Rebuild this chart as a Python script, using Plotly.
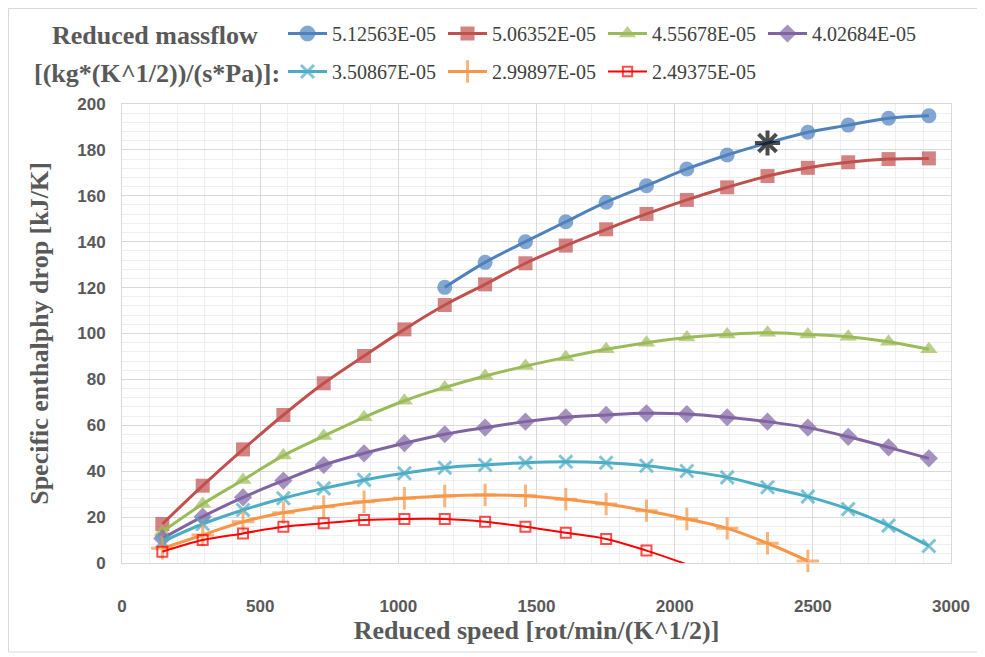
import plotly.graph_objects as go

# ---------------- data ----------------
speed = [146, 292, 438, 584, 730, 876, 1022, 1168, 1314, 1460,
         1606, 1752, 1898, 2044, 2190, 2336, 2482, 2628, 2774, 2920]

series_names = ["5.12563E-05", "5.06352E-05", "4.55678E-05", "4.02684E-05",
                "3.50867E-05", "2.99897E-05", "2.49375E-05"]

dh_51256 = [120.1, 131.0, 140.0, 148.7, 157.2, 164.4, 171.7, 177.8, 183.0,
            187.7, 190.8, 193.8, 194.9]            # starts at speed[7]
dh_50635 = [17.0, 33.7, 49.5, 64.5, 78.3, 90.2, 101.8, 112.4, 121.4, 130.6,
            138.3, 145.4, 152.1, 158.2, 163.7, 168.6, 172.2, 174.6, 176.0, 176.3]
dh_45568 = [13.6, 25.7, 36.2, 46.8, 55.3, 63.5, 70.7, 76.5, 81.5, 85.8,
            89.6, 93.1, 96.0, 98.3, 99.6, 100.3, 99.6, 98.6, 96.4, 93.1]
dh_40268 = [10.7, 20.2, 28.6, 35.9, 42.7, 47.8, 52.2, 56.1, 59.0, 61.6,
            63.5, 64.5, 65.2, 64.9, 63.5, 61.6, 59.0, 55.0, 50.4, 45.6]
dh_35087 = [9.3, 17.0, 23.1, 28.2, 32.5, 36.2, 39.1, 41.5, 42.7, 43.7,
            44.1, 43.7, 42.4, 40.1, 37.3, 33.0, 28.9, 23.5, 16.3, 7.4]
dh_29990 = [6.4, 12.2, 18.0, 21.9, 24.5, 26.7, 28.2, 29.2, 29.6, 29.3,
            27.8, 25.7, 22.8, 19.2, 15.1, 8.6, 0.9]
dh_24938 = [4.9, 10.0, 12.9, 15.8, 17.3, 18.7, 19.2, 19.2, 18.0, 15.8,
            13.2, 10.5, 5.4, -0.6]

blue_start = 7          # first speed index of the top series
design_point_index = 8  # point of the top series drawn as an asterisk

x_ticks = [0, 500, 1000, 1500, 2000, 2500, 3000]
y_ticks = [0, 20, 40, 60, 80, 100, 120, 140, 160, 180, 200]

legend_title_lines = ["Reduced massflow", "[(kg*(K^1/2))/(s*Pa)]:"]

# ---------------- layout geometry ----------------
OFF = 8                     # page body margin of the html page
W, H = 985 - OFF, 657 - OFF
PL, PT, PR, PB = 122, 104, 951, 563     # plot area in screen pixels
L, T = PL - OFF, PT - OFF
R, B = W - (PR - OFF), H - (PB - OFF)
pw, ph = W - L - R, H - T - B


def px_x(p):   # screen px -> paper x
    return (p - OFF - L) / pw


def px_y(p):   # screen px -> paper y
    return (H - B - (p - OFF)) / ph


GRAY = "#595959"
SERIF = "Liberation Serif"
SANS = "Liberation Sans"

fig = go.Figure()

# top series with the design point as an asterisk
n_b = len(dh_51256)
b_sym = ["circle"] * n_b
b_col = ["#4F81BD"] * n_b
b_size = [15] * n_b
b_lcol = ["#4F81BD"] * n_b
b_lw = [0] * n_b
b_sym[design_point_index] = "asterisk-open"
b_col[design_point_index] = "black"
b_size[design_point_index] = 21
b_lcol[design_point_index] = "black"
b_lw[design_point_index] = 4

fig.add_trace(go.Scatter(
    x=speed[blue_start:blue_start + n_b], y=dh_51256, name=series_names[0],
    mode="lines+markers", legend="legend",
    line=dict(color="#4F81BD", width=3, shape="spline", smoothing=1),
    marker=dict(symbol=b_sym, color=b_col, size=b_size,
                line=dict(color=b_lcol, width=b_lw)),
    cliponaxis=False))

styles = [
    (dh_50635, series_names[1], "#C0504D", "square", 14, 0, 3, "legend"),
    (dh_45568, series_names[2], "#9BBB59", "triangle-up", 15, 0, 3, "legend"),
    (dh_40268, series_names[3], "#8064A2", "diamond", 14, 0, 3, "legend"),
    (dh_35087, series_names[4], "#4BACC6", "x-thin", 13, 3, 3, "legend2"),
    (dh_29990, series_names[5], "#F79646", "cross-thin", 16, 3, 3, "legend2"),
    (dh_24938, series_names[6], "#FF0000", "square-open", 10, 2, 2, "legend2"),
]
for vals, name, col, sym, size, mlw, lw, lg in styles:
    sizes = [size if v >= 0 else 0 for v in vals]
    fig.add_trace(go.Scatter(
        x=speed[:len(vals)], y=vals, name=name, mode="lines+markers",
        legend=lg,
        line=dict(color=col, width=lw, shape="spline", smoothing=1),
        marker=dict(symbol=sym, color=col, size=sizes,
                    line=dict(color=col, width=mlw)),
        cliponaxis=False))

axis_common = dict(
    showline=True, linecolor="#D9D9D9", linewidth=1, mirror=True,
    showgrid=True, gridcolor="#D9D9D9", gridwidth=1,
    zeroline=False, automargin=False,
    tickfont=dict(family=SANS, size=17, color=GRAY, weight="bold"),
    ticks="",
)

fig.update_xaxes(
    range=[0, 3000], tickvals=x_ticks, ticktext=[str(v) for v in x_ticks],
    minor=dict(dtick=100, showgrid=True, gridcolor="#EFEFEF", gridwidth=1),
    ticklabelstandoff=28,
    title=dict(text="Reduced speed [rot/min/(K^1/2)]",
               font=dict(family=SERIF, size=26, color=GRAY, weight="bold"),
               standoff=4),
    **axis_common)
fig.update_yaxes(
    range=[0, 200], tickvals=y_ticks, ticktext=[str(v) for v in y_ticks],
    minor=dict(dtick=4, showgrid=True, gridcolor="#EFEFEF", gridwidth=1),
    ticklabelstandoff=12,
    title=dict(text="Specific enthalphy drop [kJ/K]",
               font=dict(family=SERIF, size=26, color=GRAY, weight="bold"),
               standoff=21),
    **axis_common)

legend_font = dict(family=SERIF, size=20, color="#404040")
legend_common = dict(orientation="h", xanchor="left", yanchor="top",
                     font=legend_font, itemwidth=39, entrywidth=106,
                     bgcolor="rgba(0,0,0,0)", traceorder="normal")

title_font = dict(family=SERIF, size=26, color=GRAY, weight="bold")
annotations = [
    dict(text=legend_title_lines[0], x=px_x(155), y=px_y(35),
         xref="paper", yref="paper", xanchor="center", yanchor="middle",
         showarrow=False, font=title_font),
    dict(text=legend_title_lines[1], x=px_x(157), y=px_y(73),
         xref="paper", yref="paper", xanchor="center", yanchor="middle",
         showarrow=False, font=title_font),
]

fig.update_layout(
    width=W, height=H,
    margin=dict(l=L, r=R, t=T, b=B, autoexpand=False),
    paper_bgcolor="white", plot_bgcolor="white",
    showlegend=True,
    legend=dict(x=px_x(283), y=px_y(14), **legend_common),
    legend2=dict(x=px_x(283), y=px_y(52), **legend_common),
    annotations=annotations,
    shapes=[dict(type="rect", xref="paper", yref="paper",
                 x0=px_x(OFF + 0.5), x1=px_x(981), y0=px_y(652), y1=px_y(OFF + 0.5),
                 line=dict(color="#D9D9D9", width=1), layer="below")],
)

fig.write_html("out.html")
